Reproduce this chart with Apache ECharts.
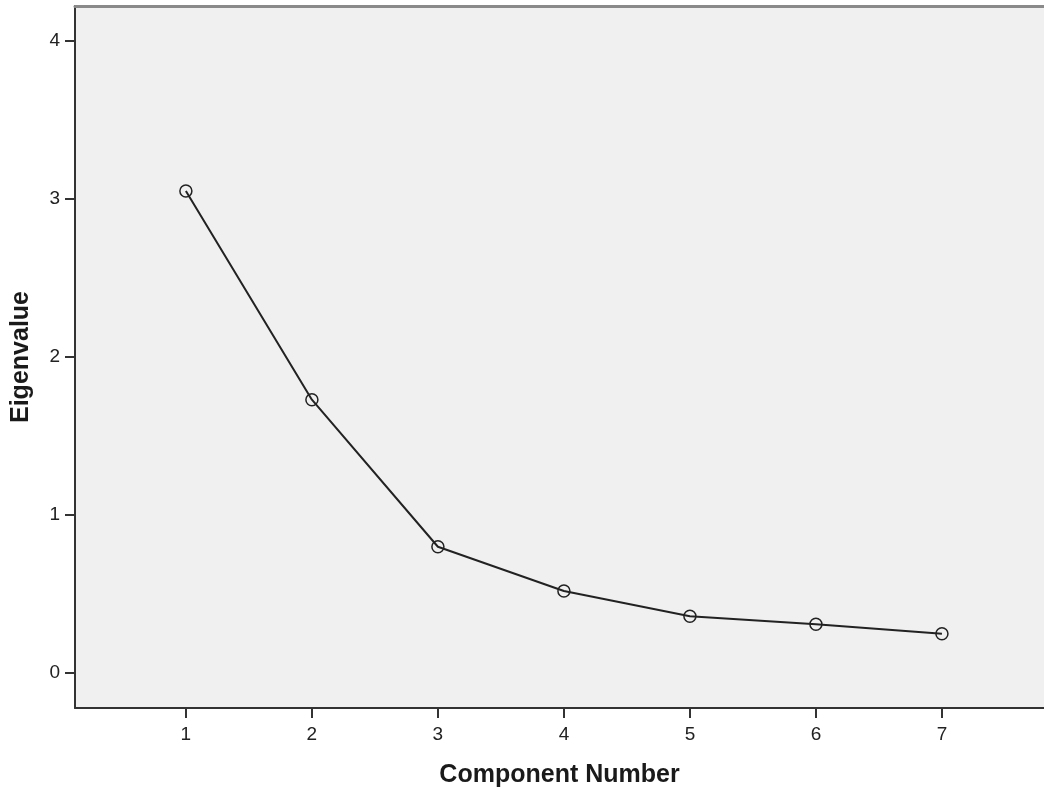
<!DOCTYPE html>
<html>
<head>
<meta charset="utf-8">
<script src="https://cdn.jsdelivr.net/npm/echarts@6/dist/echarts.min.js"></script>
<style>
  html, body { margin: 0; padding: 0; background: #fff; }
  #ScreePlot { width: 1044px; height: 790px; }
</style>
</head>
<body>
<div id="ScreePlot"></div>
<script>
// scree plot values
const components = [1, 2, 3, 4, 5, 6, 7];
const eigenvalues = [3.05, 1.73, 0.80, 0.52, 0.36, 0.31, 0.25];
const yTicks = [0, 1, 2, 3, 4];

const chart = echarts.init(document.getElementById('ScreePlot'));

const option = {
  animation: false,
  textStyle: { fontFamily: 'Liberation Sans, Arial, sans-serif' },
  grid: {
    left: 75,
    right: 0,
    top: 6,
    bottom: 82,
    outerBoundsMode: 'none',
    containLabel: false,
    show: true,
    backgroundColor: '#f0f0f0',
    borderWidth: 0
  },
  xAxis: [
    {
      type: 'value',
      min: 0.12,
      max: 7.81,
      name: 'Component Number',
      nameLocation: 'middle',
      nameGap: 55,
      nameTextStyle: { fontSize: 25, fontWeight: 'bold', color: '#1a1a1a' },
      axisLine: { show: true, onZero: false, lineStyle: { color: '#333', width: 2 } },
      axisTick: { show: true, length: 10, customValues: components, lineStyle: { color: '#333', width: 2 } },
      axisLabel: { customValues: components, margin: 17, fontSize: 19, color: '#222' },
      splitLine: { show: false }
    },
    {
      type: 'value',
      position: 'top',
      min: 0.12,
      max: 7.81,
      axisLine: { show: true, onZero: false, lineStyle: { color: '#8a8a8a', width: 3 } },
      axisTick: { show: false },
      axisLabel: { show: false },
      splitLine: { show: false }
    }
  ],
  yAxis: {
    type: 'value',
    min: -0.22,
    max: 4.22,
    name: 'Eigenvalue',
    nameLocation: 'middle',
    nameGap: 41,
    nameTextStyle: { fontSize: 25, fontWeight: 'bold', color: '#1a1a1a' },
    axisLine: { show: true, onZero: false, lineStyle: { color: '#333', width: 2 } },
    axisTick: { show: true, length: 10, customValues: yTicks, lineStyle: { color: '#333', width: 2 } },
    axisLabel: { customValues: yTicks, margin: 15, fontSize: 19, color: '#222' },
    splitLine: { show: false }
  },
  series: [
    {
      type: 'line',
      data: components.map((c, i) => [c, eigenvalues[i]]),
      symbol: 'circle',
      symbolSize: 12,
      color: '#222',
      lineStyle: { color: '#222', width: 2 },
      itemStyle: { color: 'rgba(240,240,240,0)', borderColor: '#222', borderWidth: 1.5 }
    }
  ]
};

chart.setOption(option);
</script>
</body>
</html>
